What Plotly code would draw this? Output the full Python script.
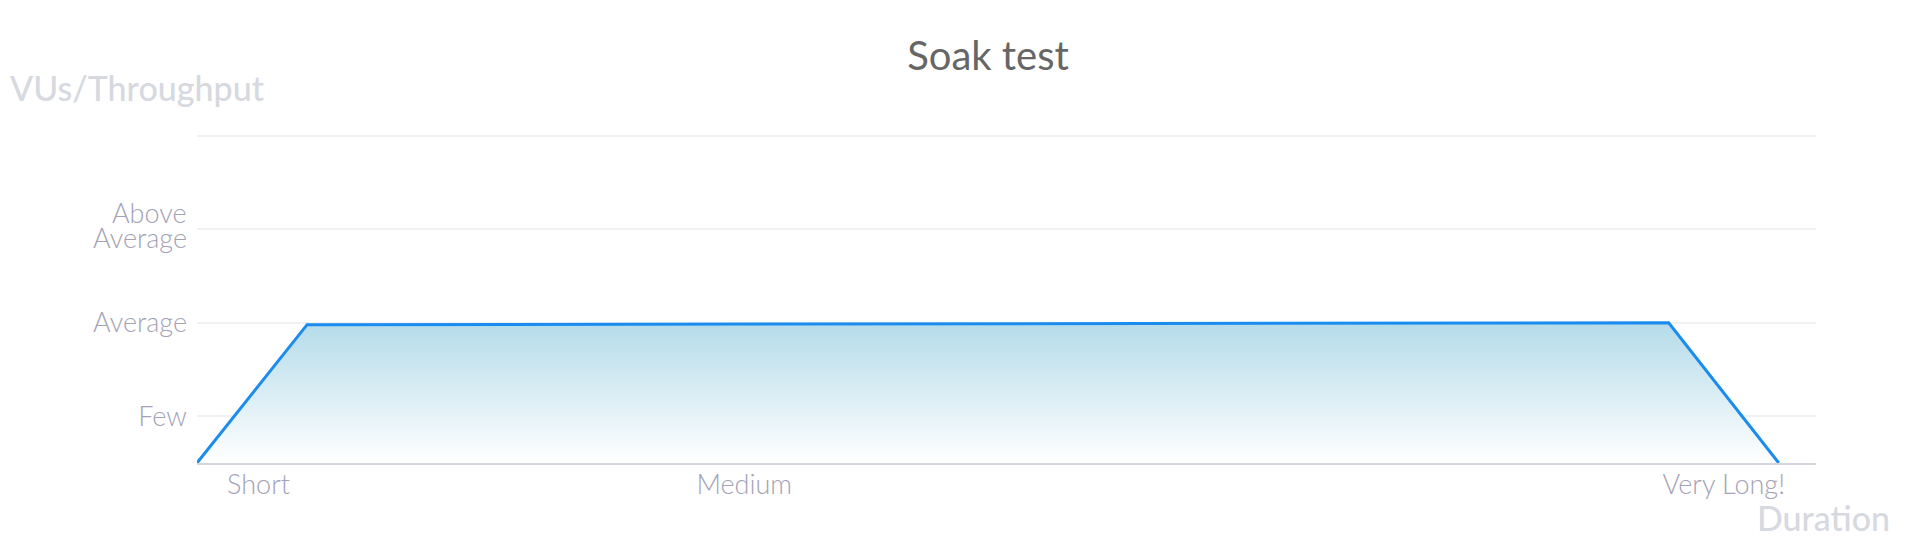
import plotly.graph_objects as go

# данные
duration = [0, 6.8, 90.9, 97.7]
load = [0.5, 1.98, 2.0, 0.5]

x_tick_vals = [3.8, 33.8, 94.3]
x_tick_text = ['Short', 'Medium', 'Very Long!']

y_tick_vals = [1, 2, 3, 4]
y_tick_text = ['Few', 'Average', '', '']
# подпись "Above Average" в две строки с плотным интервалом
above_avg_lines = ['Above', 'Average']
above_avg_level = 3

FONT = 'Lato'
TICK_COLOR = '#a3a2b6'
AXIS_TITLE_COLOR = '#d6d9df'

# страница в браузере сдвинута на 8px (margin у body)
OFF = 8
L, R, T, B = 197 - OFF, 1816 - OFF, 134 - OFF, 463 - OFF
W, H = 1920, 540

fig = go.Figure()

fig.add_trace(go.Scatter(
    x=duration,
    y=load,
    mode='lines',
    line=dict(color='#1a8cf0', width=3),
    fill='tozeroy',
    fillgradient=dict(
        type='vertical',
        start=0.5,
        stop=2.0,
        colorscale=[[0, 'rgba(255,255,255,1)'], [1, 'rgb(180,219,233)']]
    ),
    hoverinfo='skip',
    showlegend=False
))

annotations = [
    dict(
        text='VUs/Throughput',
        xref='paper', yref='paper',
        x=(8 - 197) / (R - L), y=(463 - 87) / (B - T),
        xanchor='left', yanchor='middle',
        showarrow=False,
        font=dict(size=34, color=AXIS_TITLE_COLOR, family=FONT, weight=500)
    ),
    dict(
        text='Duration',
        xref='paper', yref='paper',
        x=(1892 - 197) / (R - L), y=(463 - 517) / (B - T),
        xanchor='right', yanchor='middle',
        showarrow=False,
        font=dict(size=34, color=AXIS_TITLE_COLOR, family=FONT, weight=500)
    )
]

for txt, shift in zip(above_avg_lines, [17, -8]):
    annotations.append(dict(
        text=txt,
        xref='paper', yref='y',
        x=0, y=above_avg_level,
        xanchor='right', yanchor='middle',
        xshift=-8, yshift=shift,
        showarrow=False,
        font=dict(size=27, color=TICK_COLOR, family=FONT, weight=300)
    ))

fig.update_layout(
    width=W,
    height=H,
    margin=dict(l=L, r=W - R, t=T, b=H - B),
    paper_bgcolor='white',
    plot_bgcolor='white',
    font=dict(family=FONT),
    title=dict(
        text='Soak test',
        x=(988 - OFF) / W,
        xanchor='center',
        xref='container',
        y=1 - (56 - OFF) / H,
        yanchor='middle',
        yref='container',
        font=dict(size=40, color='#666666', family=FONT)
    ),
    xaxis=dict(
        range=[0, 100],
        tickvals=x_tick_vals,
        ticktext=x_tick_text,
        tickfont=dict(size=27, color=TICK_COLOR, weight=300),
        showgrid=False,
        zeroline=False,
        showline=True,
        linecolor='#d3d6dc',
        linewidth=2,
        ticks='',
        ticklabelstandoff=-3
    ),
    yaxis=dict(
        range=[0.5, 4.02],
        tickvals=y_tick_vals,
        ticktext=y_tick_text,
        tickfont=dict(size=27, color=TICK_COLOR, weight=300),
        showgrid=True,
        gridcolor='#f1f1f4',
        gridwidth=2,
        zeroline=False,
        showline=False,
        ticks='',
        ticklabelstandoff=9
    ),
    annotations=annotations
)

fig.write_html('out.html')
